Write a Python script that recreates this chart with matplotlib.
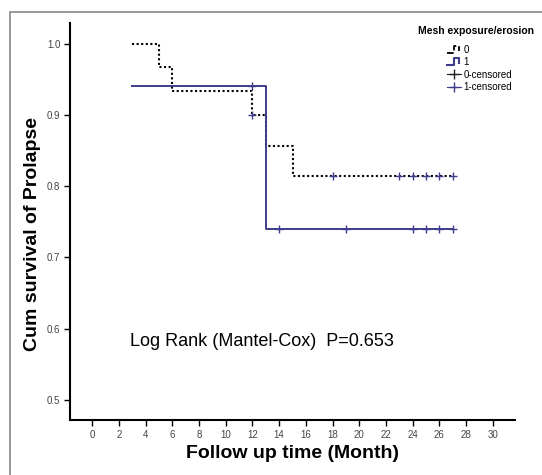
import matplotlib
matplotlib.use("Agg")
import matplotlib.pyplot as plt
from matplotlib.lines import Line2D
from matplotlib.legend_handler import HandlerBase
from matplotlib.patches import Rectangle

plt.rcParams['font.family'] = ['Liberation Sans', 'DejaVu Sans']

# group 0 (no mesh exposure) - step survival curve
t0 = [3, 5, 6, 12, 13, 15, 27]
s0 = [1.0, 0.967, 0.933, 0.9, 0.857, 0.814, 0.814]
c0_t = [12, 18, 23, 24, 25, 26, 27]
c0_s = [0.9, 0.814, 0.814, 0.814, 0.814, 0.814, 0.814]

# group 1 (mesh exposure)
t1 = [3, 13, 27]
s1 = [0.941, 0.74, 0.74]
c1_t = [12, 14, 19, 24, 25, 26, 27]
c1_s = [0.941, 0.74, 0.74, 0.74, 0.74, 0.74, 0.74]

x_ticks = list(range(0, 31, 2))
y_ticks = [0.5, 0.6, 0.7, 0.8, 0.9, 1.0]

navy = '#3d3d8c'


class StepHandler(HandlerBase):
    """Draws a small step shaped line as legend key"""

    def create_artists(self, legend, orig_handle, xdescent, ydescent,
                       width, height, fontsize, trans):
        xs = [0, width * 0.5, width * 0.5, width * 0.85, width * 0.85]
        ys = [0, 0, height, height, height * 0.3]
        line = Line2D(xs, ys, color=orig_handle.get_color(),
                      linestyle=orig_handle.get_linestyle(),
                      linewidth=orig_handle.get_linewidth(),
                      transform=trans)
        return [line]


fig = plt.figure(figsize=(5.42, 4.75), dpi=100)
ax = fig.add_axes([70 / 542, 1 - 420 / 475, 445 / 542, 397 / 475])

ax.step(t0, s0, where='post', color='black', linestyle=(0, (1, 1.2)),
        linewidth=1.5)
ax.step(t1, s1, where='post', color=navy, linewidth=1.4)
ax.plot(c0_t, c0_s, linestyle='none', marker='+', color=navy,
        markersize=6, markeredgewidth=1.0)
ax.plot(c1_t, c1_s, linestyle='none', marker='+', color=navy,
        markersize=6, markeredgewidth=1.0)

ax.set_xlim(-1.65, 31.65)
ax.set_ylim(0.472, 1.029)
ax.set_xticks(x_ticks)
ax.set_yticks(y_ticks)
ax.set_yticklabels([f'{v:.1f}' for v in y_ticks])
for side in ['top', 'right']:
    ax.spines[side].set_visible(False)
for side in ['left', 'bottom']:
    ax.spines[side].set_linewidth(1.5)
ax.tick_params(axis='both', labelsize=7, length=4, width=1, pad=3,
               colors='black', labelcolor='#444444')

ax.set_ylabel('Cum survival of Prolapse', fontsize=14, fontweight='bold')
ax.yaxis.set_label_coords(-0.065, 0.468)
ax.set_xlabel('Follow up time (Month)', fontsize=14, fontweight='bold',
              labelpad=4)

ax.text(2.85, 0.582, 'Log Rank (Mantel-Cox)  P=0.653', fontsize=13,
        va='center', ha='left')

# legend
fig.text(418 / 542, 1 - 31 / 475, 'Mesh exposure/erosion', fontsize=7.5,
         fontweight='bold', va='center', ha='left')
handles = [
    Line2D([], [], color='black', linestyle=(0, (1, 1)), linewidth=1.3),
    Line2D([], [], color=navy, linewidth=1.5),
    Line2D([], [], color='#222222', marker='+', linestyle='-', linewidth=0.8,
           markersize=7),
    Line2D([], [], color=navy, marker='+', linestyle='-', linewidth=0.8,
           markersize=7),
]
labels = ['0', '1', '0-censored', '1-censored']
fig.legend(handles, labels, loc='upper left',
           bbox_to_anchor=(442 / 542, 1 - 40 / 475), frameon=False,
           fontsize=7, handlelength=1.5, handletextpad=0.2,
           labelspacing=0.25, borderpad=0,
           handler_map={handles[0]: StepHandler(), handles[1]: StepHandler()})

# outer frame of the figure panel
fig.patches.append(Rectangle((10 / 542, -0.1), 2, 1 - 12 / 475 + 0.1,
                             transform=fig.transFigure, fill=False,
                             edgecolor='#888888', linewidth=1.2))

fig.savefig('out.png', dpi=100)
